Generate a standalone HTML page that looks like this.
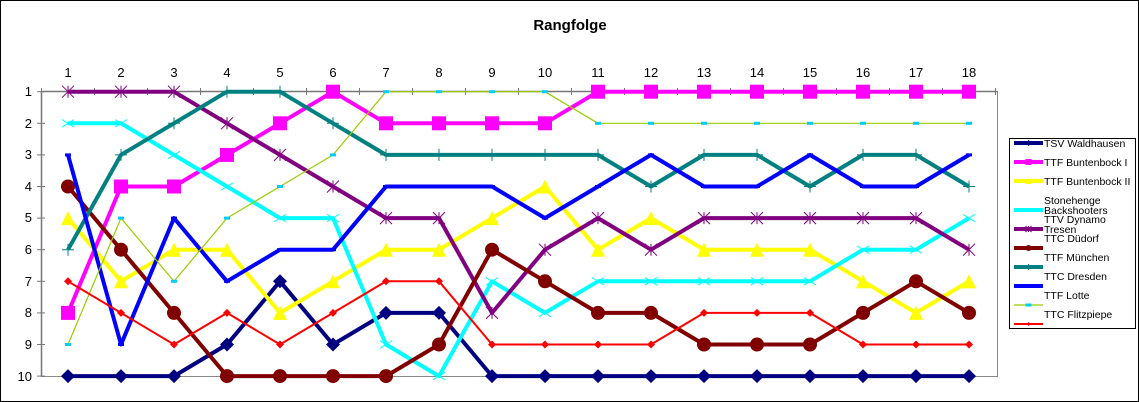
<!DOCTYPE html>
<html><head><meta charset="utf-8"><style>
html,body{margin:0;padding:0;background:#fff;}
svg{display:block;font-family:"Liberation Sans",Arial,sans-serif;}
</style></head><body>
<svg id="c" width="1139" height="402" viewBox="0 0 1139 402" xmlns="http://www.w3.org/2000/svg">
<rect x="0.5" y="0.5" width="1138" height="401" fill="#fff" stroke="#000"/>
<text x="570" y="30" font-size="15" font-weight="bold" text-anchor="middle">Rangfolge</text>
<g id="grid"></g>
<g font-size="13" text-anchor="middle">
<text x="68" y="77">1</text><text x="121" y="77">2</text><text x="174" y="77">3</text><text x="227" y="77">4</text><text x="280" y="77">5</text><text x="333" y="77">6</text><text x="386" y="77">7</text><text x="439" y="77">8</text><text x="492" y="77">9</text><text x="545" y="77">10</text><text x="598" y="77">11</text><text x="651" y="77">12</text><text x="704" y="77">13</text><text x="757" y="77">14</text><text x="810" y="77">15</text><text x="863" y="77">16</text><text x="916" y="77">17</text><text x="969" y="77">18</text>
</g>
<g font-size="13" text-anchor="end">
<text x="32" y="96">1</text><text x="32" y="128">2</text><text x="32" y="159">3</text><text x="32" y="191">4</text><text x="32" y="222">5</text><text x="32" y="254">6</text><text x="32" y="286">7</text><text x="32" y="317">8</text><text x="32" y="349">9</text><text x="32" y="381">10</text>
</g>
<g id="series"></g>
<rect x="1009.5" y="138.5" width="126" height="190" fill="#fff" stroke="#000"/>
<g id="leg" font-size="10"></g>
<g font-size="10.5">
<text x="1044" y="147">TSV Waldhausen</text>
<text x="1044" y="166">TTF Buntenbock I</text>
<text x="1044" y="185">TTF Buntenbock II</text>
<text x="1044" y="204">Stonehenge</text>
<text x="1044" y="214">Backshooters</text>
<text x="1044" y="223">TTV Dynamo</text>
<text x="1044" y="233">Tresen</text>
<text x="1044" y="242">TTC Düdorf</text>
<text x="1044" y="261">TTF München</text>
<text x="1044" y="280">TTC Dresden</text>
<text x="1044" y="299">TTF Lotte</text>
<text x="1044" y="318">TTC Flitzpiepe</text>
</g>
</svg>
<script>
const NS="http://www.w3.org/2000/svg";
function el(p,t,a){const e=document.createElementNS(NS,t);for(const k in a)e.setAttribute(k,a[k]);p.appendChild(e);return e;}
const X=i=>68+53*(i-1), Y=v=>91.7+(v-1)*31.6;
const g=document.getElementById('grid');
el(g,'line',{x1:41,y1:91.5,x2:997,y2:91.5,stroke:'#777','stroke-width':1.5});
el(g,'line',{x1:41.5,y1:91,x2:41.5,y2:377,stroke:'#777','stroke-width':1.5});
el(g,'line',{x1:41,y1:376.5,x2:997,y2:376.5,stroke:'#888','stroke-width':1});
el(g,'line',{x1:997.5,y1:91,x2:997.5,y2:377,stroke:'#888','stroke-width':1});
for(let i=0;i<=18;i++){const x=41.5+53*i;el(g,'line',{x1:x,y1:88,x2:x,y2:95,stroke:'#777'});}
for(let v=1;v<=10;v++){el(g,'line',{x1:37,y1:Y(v),x2:45,y2:Y(v),stroke:'#777'});}
const S=[
['#000080',4,'dia',[10,10,10,9,7,9,8,8,10,10,10,10,10,10,10,10,10,10],7],
['#ff00ff',4,'sq',[8,4,4,3,2,1,2,2,2,2,1,1,1,1,1,1,1,1],7],
['#ffff00',4,'tri',[5,7,6,6,8,7,6,6,5,4,6,5,6,6,6,7,8,7],7],
['#00ffff',4,'x',[2,2,3,4,5,5,9,10,7,8,7,7,7,7,7,6,6,5],6],
['#800080',4,'star',[1,1,1,2,3,4,5,5,8,6,5,6,5,5,5,5,5,6],6],
['#800000',4,'circ',[4,6,8,10,10,10,10,9,6,7,8,8,9,9,9,8,7,8],7],
['#008080',4,'plus',[6,3,2,1,1,2,3,3,3,3,3,4,3,3,4,3,3,4],6],
['#0000ff',4,'dash',[3,9,5,7,6,6,4,4,4,5,4,3,4,4,3,4,4,3],4],
['#99cc00',1.2,'dash2',[9,5,7,5,4,3,1,1,1,1,2,2,2,2,2,2,2,2],4],
['#ff0000',2,'dia',[7,8,9,8,9,8,7,7,9,9,9,9,8,8,8,9,9,9],4]];
function mk(p,type,x,y,c,r){
 if(type=='dia')el(p,'polygon',{points:`${x},${y-r} ${x+r},${y} ${x},${y+r} ${x-r},${y}`,fill:c});
 else if(type=='sq')el(p,'rect',{x:x-r,y:y-r,width:2*r,height:2*r,fill:c});
 else if(type=='tri')el(p,'polygon',{points:`${x},${y-r} ${x+r},${y+r} ${x-r},${y+r}`,fill:c});
 else if(type=='circ')el(p,'circle',{cx:x,cy:y,r:r,fill:c});
 else if(type=='x'){el(p,'path',{d:`M${x-r} ${y-r/1.6}L${x+r} ${y+r/1.6}M${x-r} ${y+r/1.6}L${x+r} ${y-r/1.6}`,stroke:c,'stroke-width':1});}
 else if(type=='star'){el(p,'path',{d:`M${x-r} ${y-r}L${x+r} ${y+r}M${x-r} ${y+r}L${x+r} ${y-r}M${x} ${y-r}L${x} ${y+r}`,stroke:c,'stroke-width':1});}
 else if(type=='plus'){el(p,'path',{d:`M${x-r} ${y}L${x+r} ${y}M${x} ${y-r}L${x} ${y+r}`,stroke:c,'stroke-width':1});}
 else if(type=='dash'||type=='dash2'){el(p,'rect',{x:x-3,y:y-1.5,width:6,height:3,fill:type=='dash2'?'#00ccff':c});}
}
const sg=document.getElementById('series'),lg=document.getElementById('leg');
const ly=[143,162,181,210,229,248,267,286,305,324];
S.forEach((s,k)=>{
 el(sg,'polyline',{points:s[3].map((v,i)=>X(i+1)+','+Y(v)).join(' '),fill:'none',stroke:s[0],'stroke-width':s[1],'stroke-linejoin':'round'});
 s[3].forEach((v,i)=>mk(sg,s[2],X(i+1),Y(v),s[0],s[4]));
 el(lg,'line',{x1:1014,y1:ly[k],x2:1043,y2:ly[k],stroke:s[0],'stroke-width':s[1]});
 mk(lg,s[2],1028.5,ly[k],s[0],Math.min(3,s[4]/2));
});
</script>
</body></html>
